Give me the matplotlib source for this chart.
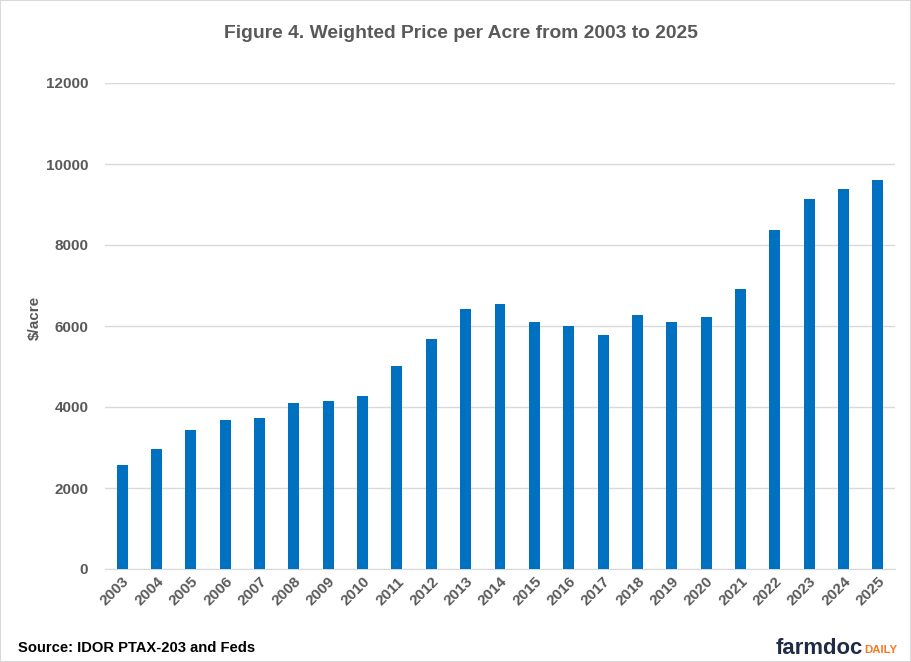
import matplotlib
matplotlib.use("Agg")
import matplotlib.pyplot as plt
from matplotlib.patches import Rectangle

years = [str(y) for y in range(2003, 2026)]
prices = [2570, 2960, 3430, 3680, 3730, 4100, 4150, 4270, 5010, 5680, 6420, 6540,
          6100, 6000, 5780, 6270, 6100, 6220, 6910, 8370, 9140, 9380, 9610]
yticks = [0, 2000, 4000, 6000, 8000, 10000, 12000]

plt.rcParams['font.family'] = ['Liberation Sans', 'DejaVu Sans']

fig = plt.figure(figsize=(9.11, 6.62), dpi=100)
ax = fig.add_axes([105/911, 1-569/662, 790/911, (569-83)/662])

x = list(range(len(years)))
ax.bar(x, prices, width=0.32, color='#0070C0', zorder=3)
ax.set_xlim(-0.5, len(years)-0.5)
ax.set_ylim(0, 12000)
ax.set_yticks(yticks)
ax.set_yticklabels([str(t) for t in yticks])
ax.set_xticks(x)
ax.set_xticklabels(years, rotation=45, ha='right', rotation_mode='anchor')
ax.grid(axis='y', color='#d9d9d9', linewidth=1, zorder=0)
for s in ['top', 'right', 'left']:
    ax.spines[s].set_visible(False)
ax.spines['bottom'].set_color('#d9d9d9')
ax.tick_params(axis='y', length=0, pad=12, labelsize=11, labelcolor='#595959')
ax.tick_params(axis='x', length=0, pad=4, labelsize=11, labelcolor='#595959')
for lab in ax.get_xticklabels() + ax.get_yticklabels():
    lab.set_fontweight('bold')
ax.set_ylabel('$/acre', fontsize=11, fontweight='bold', color='#595959')
ax.yaxis.set_label_coords((42-105)/790, (569-318)/486)

fig.text(460.5/911, 1-33/662, 'Figure 4. Weighted Price per Acre from 2003 to 2025',
         ha='center', va='center', fontsize=13.9, fontweight='bold', color='#595959')
fig.text(18/911, 1-648/662, 'Source: IDOR PTAX-203 and Feds', ha='left', va='center',
         fontsize=10.6, fontweight='bold', color='black')
t1 = fig.text(776/911, 1-648/662, 'farmdoc', ha='left', va='center', fontsize=15.9,
              fontweight='bold', color='#1f2a44')
fig.canvas.draw()
bb = t1.get_window_extent()
fig.text(bb.x1/911 + 0.001, 1-650/662, 'DAILY', ha='left', va='center', fontsize=8.2,
         fontweight='bold', color='#f47b20')

fig.patches.append(Rectangle((0, 0), 1, 1, transform=fig.transFigure, fill=False,
                             edgecolor='#d9d9d9', linewidth=1.5))
fig.savefig('out.png', dpi=100)
